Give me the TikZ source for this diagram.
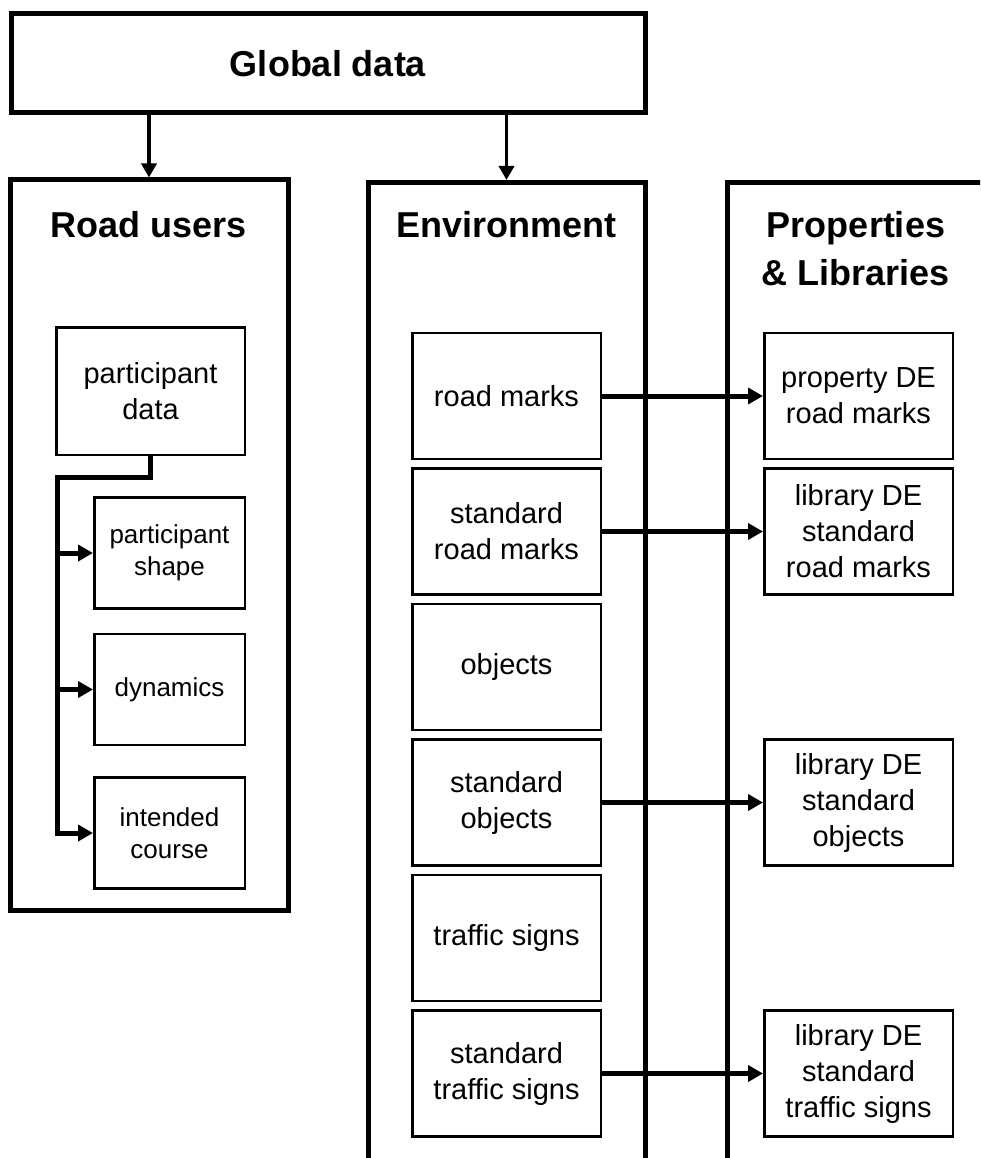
\documentclass[tikz,border=0pt]{standalone}
\usepackage{fontspec}
\setmainfont{Liberation Sans}
\usetikzlibrary{arrows.meta,positioning}

\begin{document}
\begin{tikzpicture}[x=1pt, y=-1pt, node distance=7pt,
  column/.style = {draw, line width=5pt, inner sep=0pt, minimum width=277pt},
  heading/.style = {font=\fontsize{36}{48}\selectfont\bfseries, align=center},
  item/.style = {draw, line width=2.5pt, inner sep=0pt, align=center,
    minimum width=188.5pt, minimum height=126pt, font=\fontsize{29}{36}\selectfont},
  subitem/.style = {draw, line width=2.5pt, inner sep=0pt, align=center,
    minimum width=150.5pt, minimum height=111pt, font=\fontsize{26}{32}\selectfont},
  feed/.style = {line width=3.5pt, -{Triangle[length=14pt,width=15pt]}},
  link/.style = {line width=5pt, -{Triangle[length=15pt,width=16pt]}},
  ]
  \useasboundingbox (0,0) rectangle (980,1158);
  \clip (0,0) rectangle (980,1158);

  \node[column, minimum width=634pt, minimum height=99pt,
    font=\fontsize{36}{45}\selectfont\bfseries] (global) at (328,63.5) {Global data};
  \node[column, minimum width=278pt, minimum height=730pt] (users) at (149,545) {};
  \node[column, minimum height=1100pt, anchor=north] (env) at (506.5,180) {};
  \node[column, minimum width=270pt, minimum height=1100pt, anchor=north west] (props) at (725,180) {};

  \node[heading, anchor=base] (usershead) at (149,237) {Road users};
  \node[heading, anchor=base] (envhead) at (506.5,237) {Environment};
  \node[heading] (propshead) at (856,249) {Properties\\\& Libraries};

  \draw[feed] (global.south -| users.north) -- (users.north);
  \draw[feed] (global.south -| env.north) -- (env.north);

  \node[item, minimum height=127.5pt] (pdata) at (150.5,391) {participant\\data};
  \node[subitem] (pshape) at (169.5,553) {participant\\shape};
  \node[subitem] (dynamics) at (169.5,689.5) {dynamics};
  \node[subitem] (course) at (169.5,833) {intended\\course};
  \coordinate (bus) at (57,477);
  \draw[link] (pdata.south) |- (bus) |- (course.west);
  \draw[link] (bus |- pshape.west) -- (pshape.west);
  \draw[link] (bus |- dynamics.west) -- (dynamics.west);

  \node[item] (marks) at (506.5,396) {road marks};
  \node[item, below=of marks] (stdmarks) {standard\\road marks};
  \node[item, below=of stdmarks] (objects) {objects};
  \node[item, below=of objects] (stdobjects) {standard\\objects};
  \node[item, below=of stdobjects] (signs) {traffic signs};
  \node[item, below=of signs] (stdsigns) {standard\\traffic signs};

  \node[item, right=161pt of marks] (propmarks) {property DE\\road marks};
  \node[item, right=161pt of stdmarks] (libmarks) {library DE\\standard\\road marks};
  \node[item, right=161pt of stdobjects] (libobjects) {library DE\\standard\\objects};
  \node[item, right=161pt of stdsigns] (libsigns) {library DE\\standard\\traffic signs};

  \draw[link] (marks) -- (propmarks);
  \draw[link] (stdmarks) -- (libmarks);
  \draw[link] (stdobjects) -- (libobjects);
  \draw[link] (stdsigns) -- (libsigns);
\end{tikzpicture}
\end{document}
